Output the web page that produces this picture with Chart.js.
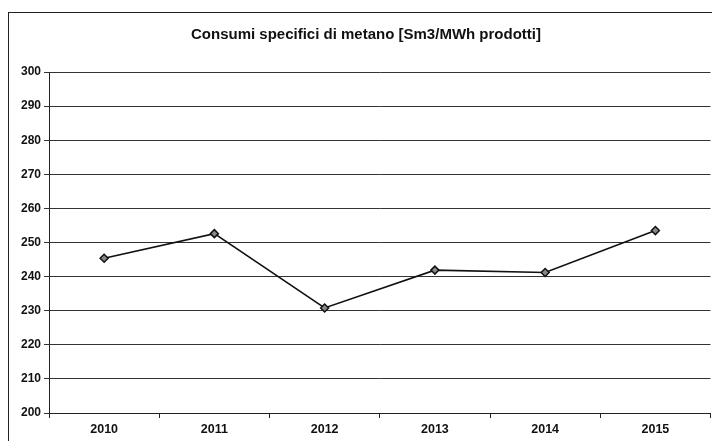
<!DOCTYPE html>
<html lang="it">
<head>
    <meta charset="UTF-8">
    <title>Consumi specifici di metano</title>
    <style>
        body {
            margin: 0;
            padding: 0;
            background-color: white;
            overflow: hidden;
        }
        .frame {
            position: absolute;
            left: 8px;
            top: 12px;
            width: 800px;
            height: 500px;
            border-left: 1px solid #222;
            border-top: 1px solid #222;
        }
        .wrap {
            position: absolute;
            left: 0;
            top: 0;
            width: 716px;
            height: 441px;
        }
    </style>
</head>
<body>
    <div class="frame"></div>
    <div class="wrap"><canvas id="chart"></canvas></div>

    <script src="https://cdn.jsdelivr.net/npm/chart.js"></script>
    <script>
        // values
        const years = ['2010', '2011', '2012', '2013', '2014', '2015'];
        const consumi = [245.4, 252.6, 230.8, 241.9, 241.2, 253.5];
        const yMin = 200;
        const yMax = 300;
        const yStep = 10;
        const titolo = 'Consumi specifici di metano [Sm3/MWh prodotti]';

        const fontFamily = 'Liberation Sans, Arial, sans-serif';

        new Chart(document.getElementById('chart'), {
            type: 'line',
            data: {
                labels: years,
                datasets: [{
                    data: consumi,
                    borderColor: '#111',
                    borderWidth: 1.6,
                    pointStyle: 'rectRot',
                    pointRadius: 4,
                    pointBackgroundColor: '#888',
                    pointBorderColor: '#111',
                    pointBorderWidth: 1.5,
                    tension: 0
                }]
            },
            options: {
                responsive: true,
                maintainAspectRatio: false,
                animation: false,
                layout: { padding: { left: 16, right: 0, top: 0, bottom: 0 } },
                plugins: {
                    legend: { display: false },
                    tooltip: { enabled: false },
                    title: {
                        display: true,
                        text: titolo,
                        color: '#111',
                        font: { family: fontFamily, size: 15, weight: 'bold' },
                        padding: { top: 26, bottom: 28 }
                    }
                },
                scales: {
                    x: {
                        offset: true,
                        grid: {
                            offset: true,
                            drawOnChartArea: false,
                            color: '#222',
                            tickLength: 5
                        },
                        border: { color: '#222', width: 1 },
                        ticks: {
                            color: '#111',
                            font: { family: fontFamily, size: 12.5, weight: 'bold' },
                            padding: 4,
                            maxRotation: 0,
                            autoSkip: false
                        }
                    },
                    y: {
                        min: yMin,
                        max: yMax,
                        afterFit: function(scale) { scale.width = 33; },
                        grid: {
                            color: '#333',
                            tickLength: 5
                        },
                        border: { color: '#222', width: 1 },
                        ticks: {
                            stepSize: yStep,
                            color: '#111',
                            font: { family: fontFamily, size: 12, weight: 'bold' },
                            padding: 3
                        }
                    }
                }
            }
        });
    </script>
</body>
</html>
